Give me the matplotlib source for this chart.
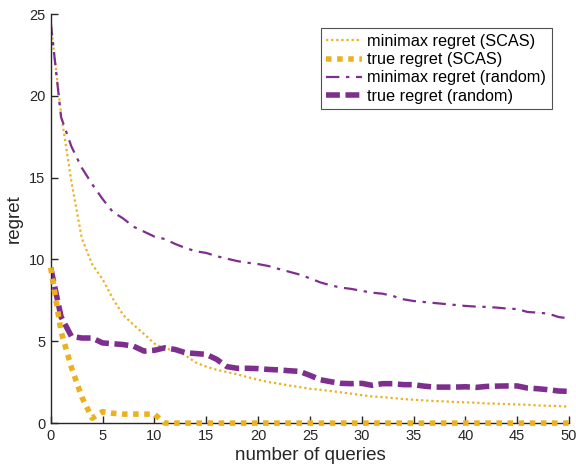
import numpy as np
import matplotlib
matplotlib.use("Agg")
import matplotlib.pyplot as plt

plt.rcParams['font.family'] = ['Liberation Sans', 'DejaVu Sans']

queries = np.arange(0, 51)

# minimax regret, SCAS query strategy
minimax_scas = [24.5, 18.9, 14.75, 11.3, 9.7, 8.8, 7.6, 6.6, 6.0, 5.45,
                4.86, 4.55, 4.45, 4.14, 3.7, 3.45, 3.26, 3.12, 2.98, 2.81,
                2.65, 2.51, 2.41, 2.3, 2.2, 2.1, 2.04, 1.96, 1.88, 1.8,
                1.71, 1.63, 1.59, 1.53, 1.47, 1.43, 1.39, 1.35, 1.33, 1.29,
                1.27, 1.25, 1.2, 1.19, 1.16, 1.14, 1.12, 1.08, 1.06, 1.04,
                1.0]

# true regret, SCAS query strategy
true_scas = [9.5, 5.6, 3.4, 1.6, 0.3, 0.7, 0.6, 0.55, 0.55, 0.55,
             0.55] + [0.0] * 40

# minimax regret, random queries
minimax_random = [24.5, 18.7, 16.9, 15.6, 14.6, 13.7, 12.9, 12.5, 12.0, 11.7,
                  11.4, 11.25, 10.95, 10.7, 10.5, 10.4, 10.2, 10.05, 9.9, 9.8,
                  9.72, 9.6, 9.42, 9.25, 9.08, 8.85, 8.6, 8.42, 8.28, 8.2,
                  8.08, 7.97, 7.91, 7.77, 7.57, 7.46, 7.4, 7.34, 7.28, 7.22,
                  7.16, 7.12, 7.1, 7.06, 7.0, 6.97, 6.79, 6.75, 6.69, 6.48,
                  6.4]

# true regret, random queries
true_random = [9.5, 6.5, 5.3, 5.2, 5.2, 4.9, 4.85, 4.8, 4.7, 4.4,
               4.45, 4.6, 4.5, 4.3, 4.25, 4.2, 3.9, 3.45, 3.35, 3.35,
               3.33, 3.28, 3.25, 3.2, 3.16, 2.92, 2.65, 2.53, 2.43, 2.41,
               2.43, 2.31, 2.41, 2.41, 2.35, 2.35, 2.26, 2.2, 2.2, 2.2,
               2.22, 2.18, 2.24, 2.26, 2.27, 2.27, 2.14, 2.1, 2.04, 1.96,
               1.94]

yellow = '#EDB120'
purple = '#7E2F8E'
dark = '#262626'

fig = plt.figure(figsize=(5.76, 4.67), dpi=100)
ax = fig.add_axes([0.088, 0.094, 0.9, 0.876])

ax.plot(queries, minimax_scas, color=yellow, lw=1.6, ls=(0, (1, 1.3)),
        label='minimax regret (SCAS)')
ax.plot(queries, true_scas, color=yellow, lw=4, ls=(0, (1, 1)),
        label='true regret (SCAS)', clip_on=False, zorder=3)
ax.plot(queries, minimax_random, color=purple, lw=1.6,
        ls=(0, (6, 3, 1.5, 3)), label='minimax regret (random)')
ax.plot(queries, true_random, color=purple, lw=4, ls=(0, (2.5, 1)),
        label='true regret (random)')

ax.set_xlim(0, 50)
ax.set_ylim(0, 25)
ax.set_xticks(np.arange(0, 51, 5))
ax.set_yticks(np.arange(0, 26, 5))
ax.spines['top'].set_visible(False)
ax.spines['right'].set_visible(False)
for s in ('left', 'bottom'):
    ax.spines[s].set_color(dark)
    ax.spines[s].set_linewidth(1.0)
ax.tick_params(direction='in', length=5, width=1.0, color=dark,
               labelcolor=dark, labelsize=10.5, pad=4)

ax.set_xlabel('number of queries', fontsize=13.5, color=dark, labelpad=3)
ax.set_ylabel('regret', fontsize=13.5, color=dark, labelpad=4)

leg = ax.legend(loc='upper right', bbox_to_anchor=(0.982, 0.985),
                fontsize=11.7, frameon=True, fancybox=False,
                handlelength=2.2, handletextpad=0.3, borderpad=0.35,
                labelspacing=0.2)
leg.get_frame().set_edgecolor(dark)
leg.get_frame().set_linewidth(0.8)

fig.savefig('out.png', dpi=100)
